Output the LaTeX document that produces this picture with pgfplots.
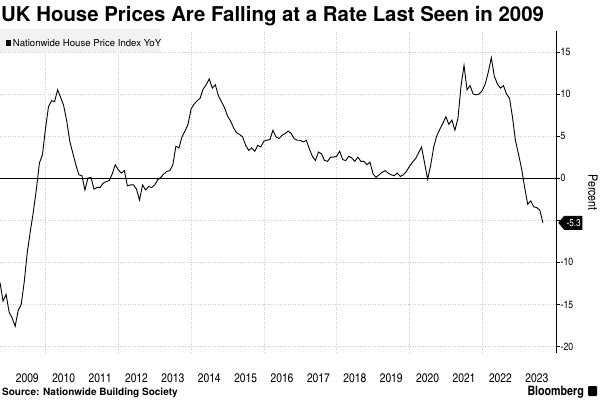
\documentclass[border=0pt]{standalone}
\usepackage{fontspec}
\setmainfont{texgyreheroscn-regular.otf}[BoldFont=texgyreheroscn-bold.otf]
\newfontfamily\heros{texgyreheros-regular.otf}[BoldFont=texgyreheros-bold.otf]
\usepackage{pgfplots}
\pgfplotsset{compat=1.18}
\usetikzlibrary{shapes.symbols}
\pgfplotstableread{
n v
0 -12.4
1 -14.6
2 -13.8
3 -15.9
4 -16.6
5 -17.6
6 -15.7
7 -15.0
8 -12.3
9 -8.8
10 -6.3
11 -4.0
12 -1.3
13 1.8
14 2.8
15 5.9
16 8.5
17 9.2
18 9.1
19 10.5
20 9.6
21 8.6
22 6.8
23 4.4
24 3.0
25 1.6
26 0.4
27 0.3
28 -1.4
29 0.0
30 0.1
31 -1.3
32 -1.1
33 -1.1
34 -0.6
35 -0.4
36 -0.3
37 0.5
38 1.6
39 1.0
40 0.6
41 0.9
42 -0.9
43 -0.8
44 -0.8
45 -1.3
46 -2.6
47 -0.8
48 -1.4
49 -1.0
50 -1.1
51 -0.8
52 -0.2
53 0.1
54 0.5
55 0.8
56 0.9
57 1.6
58 3.8
59 3.6
60 4.9
61 5.6
62 6.4
63 8.2
64 8.8
65 9.2
66 9.5
67 10.6
68 11.1
69 11.8
70 10.7
71 11.1
72 9.8
73 9.1
74 8.4
75 7.4
76 6.8
77 6.0
78 5.4
79 5.2
80 4.9
81 3.9
82 3.3
83 3.6
84 3.2
85 3.9
86 3.7
87 4.4
88 4.5
89 4.6
90 5.7
91 4.9
92 4.7
93 5.1
94 5.3
95 5.6
96 5.3
97 4.7
98 4.5
99 4.5
100 4.3
101 4.5
102 3.5
103 2.6
104 2.1
105 3.1
106 2.9
107 2.1
108 2.0
109 2.5
110 2.5
111 2.6
112 3.2
113 2.2
114 2.1
115 2.6
116 2.4
117 2.0
118 2.5
119 2.0
120 2.0
121 1.6
122 1.9
123 0.5
124 0.1
125 0.4
126 0.7
127 0.9
128 0.6
129 0.4
130 0.3
131 0.6
132 0.2
133 0.4
134 0.8
135 1.4
136 1.9
137 2.3
138 3.0
139 3.7
140 1.8
141 -0.1
142 1.5
143 3.7
144 5.0
145 5.8
146 6.5
147 7.3
148 6.4
149 6.9
150 5.7
151 7.1
152 10.9
153 13.4
154 10.5
155 11.0
156 10.0
157 9.9
158 10.0
159 10.4
160 11.2
161 12.6
162 14.3
163 12.1
164 11.2
165 10.7
166 11.0
167 10.0
168 9.5
169 7.2
170 4.4
171 2.8
172 1.1
173 -1.1
174 -3.1
175 -2.7
176 -3.4
177 -3.5
178 -3.8
179 -5.3
}\hpi
\begin{document}
\begin{tikzpicture}[x=1bp,y=1bp]
\useasboundingbox (0,0) rectangle (600,400);
\begin{axis}[
  at={(0,56)}, anchor=south west,
  scale only axis, width=556.5bp, height=322bp,
  xmin=0, xmax=183.5, ymin=-20.75, ymax=17.5,
  axis y line*=right,
  axis x line*=bottom,
  x axis line style={draw=none},
  y axis line style={black, line width=0.6bp},
  xtick={9,21,33,45,57,69,81,93,105,117,129,141,153,165,177},
  xticklabels={2009,2010,2011,2012,2013,2014,2015,2016,2017,2018,2019,2020,2021,2022,2023},
  minor xtick={15,39,63,87,111,135,159},
  xminorgrids,
  x tick style={draw=none},
  minor x tick style={draw=none},
  xticklabel style={font=\fontsize{12.5bp}{14bp}\selectfont, anchor=base, yshift=-26.2bp},
  ytick={-20,-15,-10,-5,0,5,10,15},
  yticklabels={-20,-15,-10,,0,5,10,15},
  ymajorgrids,
  y tick style={black, line width=0.6bp},
  major tick length=3bp,
  tick align=outside,
  yticklabel pos=right,
  yticklabel style={font=\fontsize{10.5bp}{12bp}\selectfont, anchor=west, inner sep=1bp},
  major grid style={gray!40, line width=0.5bp, dash pattern=on 1bp off 1.5bp},
  minor grid style={gray!40, line width=0.5bp, dash pattern=on 1bp off 1.5bp},
  clip=false,
]
\draw[black, line width=0.6bp] (axis cs:0,0) -- (axis cs:183.5,0);
\addplot[black, line width=0.9bp, mark=none] table[x=n, y=v] {\hpi};
\node[signal, signal to=west, signal pointer angle=100, fill=black, text=white,
      font=\fontsize{10bp}{11bp}\selectfont, inner sep=1.5bp, minimum height=14bp,
      anchor=west, xshift=1.5bp] at (axis cs:183.5,-5.3) {\hspace{1bp}-5.3};
\end{axis}
% title
\node[anchor=base west, inner sep=0, font=\heros\bfseries\fontsize{20.4bp}{24bp}\selectfont] at (1,378.3) {UK House Prices Are Falling at a Rate Last Seen in 2009};
% legend
\fill[gray!10] (0,348.3) rectangle (160,370.7);
\fill[black] (5.7,354) rectangle (11.2,360.5);
\node[anchor=base west, inner sep=0, font=\heros\fontsize{9.6bp}{11bp}\selectfont] at (12.7,354) {Nationwide House Price Index YoY};
% Percent
\node[rotate=-90, inner sep=0, font=\fontsize{13bp}{14bp}\selectfont] at (593,207.5) {Percent};
% footer
\node[anchor=base west, inner sep=0, font=\heros\bfseries\fontsize{10bp}{12bp}\selectfont] at (2,5) {Source: Nationwide Building Society};
\node[anchor=base east, inner sep=0, font=\bfseries\fontsize{13bp}{14bp}\selectfont] at (584,4.5) {Bloomberg};
\fill[black, rounded corners=1bp] (588,4) rectangle (597,14);
\end{tikzpicture}
\end{document}
